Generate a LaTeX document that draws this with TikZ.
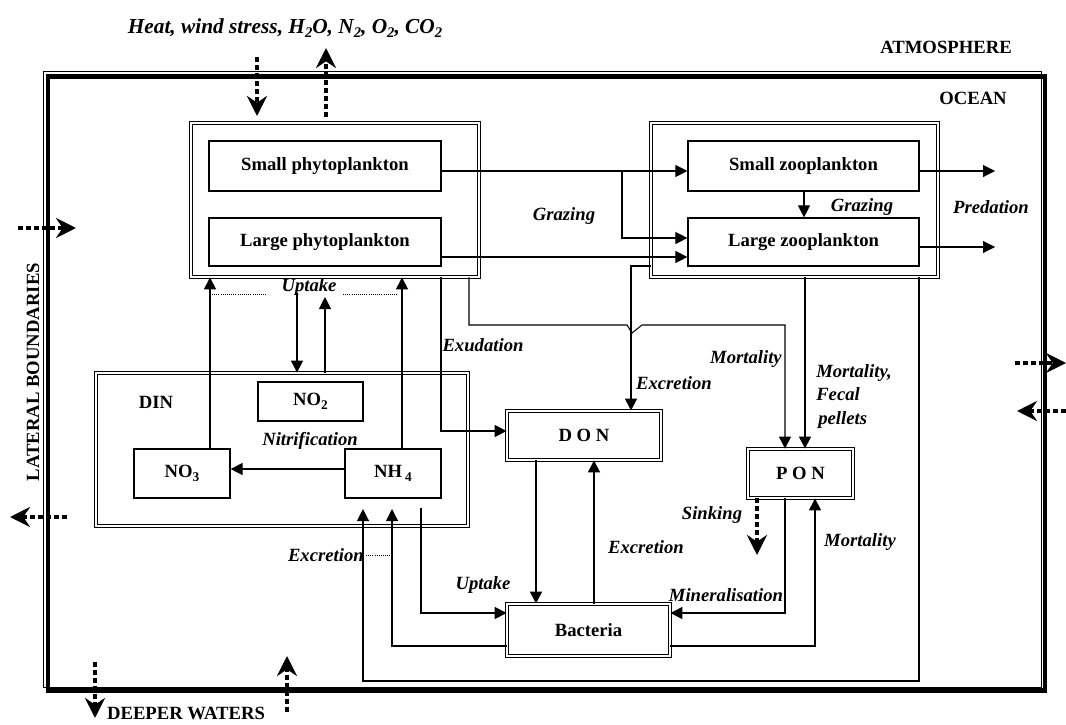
\documentclass[tikz,border=0pt]{standalone}
\usepackage{fontspec}
\setmainfont{Liberation Serif}
\usetikzlibrary{arrows.meta,calc}
\newcommand\sbs[2][10]{\raisebox{-0.45ex}{\fontsize{#1}{#1}\selectfont #2}}
\begin{document}
\begin{tikzpicture}[x=0.75pt,y=-0.75pt,
  ibox/.style={draw, line width=0.9pt, inner sep=0pt, font=\fontsize{14}{16}\selectfont\bfseries},
  dbox/.style={draw, double, double distance=1.3pt, line width=0.6pt, inner sep=0pt, font=\fontsize{14}{16}\selectfont\bfseries},
  arr/.style={line width=0.8pt, -{Triangle[length=9pt,width=9pt]}},
  flux/.style={line width=3pt, dash pattern=on 3.75pt off 2.25pt, -{Stealth[length=15pt,width=15pt,inset=5pt]}},
  lbl/.style={font=\fontsize{14}{17.6}\selectfont\bfseries\itshape, inner sep=0pt},
  captxt/.style={font=\fontsize{14}{16}\selectfont\bfseries, inner sep=0pt},
  dots/.style={line width=0.6pt, densely dotted}]
\useasboundingbox (0,0) rectangle (1066,724);

% ocean frame
\draw[line width=0.75pt] (43,72) rectangle (1041,687);
\draw[line width=3.5pt] (48,76.5) rectangle (1045,690.5);

% group boxes
\node[dbox, minimum width=288*0.75pt, minimum height=154*0.75pt] (phyto) at (335,200) {};
\node[dbox, minimum width=287*0.75pt, minimum height=154*0.75pt] (zoo) at (794.5,200) {};
\node[dbox, minimum width=372*0.75pt, minimum height=153*0.75pt] (din) at (282,449.5) {};

% boxes
\node[ibox, minimum width=232*0.75pt, minimum height=50*0.75pt] (sphy) at (325,166) {Small phytoplankton};
\node[ibox, minimum width=232*0.75pt, minimum height=48*0.75pt] (lphy) at (325,242) {Large phytoplankton};
\node[ibox, minimum width=231*0.75pt, minimum height=50*0.75pt] (szoo) at (803.5,166) {Small zooplankton};
\node[ibox, minimum width=231*0.75pt, minimum height=48*0.75pt] (lzoo) at (803.5,242) {Large zooplankton};
\node[ibox, minimum width=105*0.75pt, minimum height=39*0.75pt] (no2) at (310.5,401.5) {NO\sbs{2}};
\node[ibox, minimum width=96*0.75pt, minimum height=49*0.75pt] (no3) at (182,473.5) {NO\sbs{3}};
\node[ibox, minimum width=96*0.75pt, minimum height=49*0.75pt] (nh4) at (393,473.5) {NH\,\sbs{4}};
\node[dbox, minimum width=154*0.75pt, minimum height=49*0.75pt] (don) at (584,435.5) {D O N};
\node[dbox, minimum width=105*0.75pt, minimum height=49*0.75pt] (pon) at (800.5,473.5) {P O N};
\node[dbox, minimum width=163*0.75pt, minimum height=52*0.75pt] (bac) at (588.5,630) {Bacteria};

% connectors
\coordinate (br) at (622,171);
\draw[arr] (sphy.east |- 0,171) -- (szoo.west |- 0,171);
\draw[arr] (br) |- (lzoo.west |- 0,238);
\draw[arr] (lphy.east |- 0,257) -- (lzoo.west |- 0,257);
\draw[arr] (szoo.south -| 804,0) -- (lzoo.north -| 804,0);
\coordinate (pred1) at (995,171);
\coordinate (pred2) at (995,247);
\draw[arr] (szoo.east |- pred1) -- (pred1);
\draw[arr] (lzoo.east |- pred2) -- (pred2);
\draw[arr] (zoo.west |- 0,266) -| (don.north -| 631,0);
\draw[arr] (phyto.south -| 469,0) -- (469,325) -- (627,325) -- (632,333) -- (642,325) -| (pon.north -| 785,0);
\draw[arr] (phyto.south -| 441,0) |- (don.west |- 0,431);
\draw[arr] (zoo.south -| 805,0) -- (pon.north -| 805,0);
\draw[arr] (no3.north -| 210,0) -- (phyto.south -| 210,0);
\draw[arr] (nh4.north -| 402,0) -- (phyto.south -| 402,0);
\coordinate (up1) at (297,293);
\coordinate (up2) at (325,297);
\draw[arr] (up1) -- (din.north -| up1);
\draw[arr] (din.north -| up2) -- (up2);
\draw[arr] (nh4.west |- 0,469) -- (no3.east |- 0,469);
\coordinate (bu) at (421,508);
\coordinate (e1) at (392,509);
\coordinate (e2) at (363,509);
\draw[arr] (bu) |- (bac.west |- 0,613);
\draw[arr] (bac.west |- 0,646) -| (e1);
\draw[arr] (zoo.south -| 919,0) |- (363,681) -- (e2);
\draw[arr] (don.south -| 536,0) -- (bac.north -| 536,0);
\draw[arr] (bac.north -| 594,0) -- (don.south -| 594,0);
\draw[arr] (pon.south -| 785,0) |- (bac.east |- 0,613);
\draw[arr] (bac.east |- 0,646) -| (pon.south -| 815,0);

% dotted guide lines
\draw[dots] (212,294) -- (267,294);
\draw[dots] (343,294) -- (398,294);
\draw[dots] (366,555) -- (390,555);

% flux arrows
\coordinate (sk) at (757,555);
\draw[flux] (pon.south -| sk) -- (sk);
\coordinate (ta1) at (257,57);  \coordinate (tb1) at (257,116);
\coordinate (ta2) at (326,117); \coordinate (tb2) at (326,48);
\draw[flux] (ta1) -- (tb1);
\draw[flux] (ta2) -- (tb2);
\coordinate (la1) at (18,228);  \coordinate (lb1) at (76,228);
\coordinate (la2) at (67,517);  \coordinate (lb2) at (10,517);
\draw[flux] (la1) -- (lb1);
\draw[flux] (la2) -- (lb2);
\coordinate (ra1) at (1015,363); \coordinate (rb1) at (1066,363);
\coordinate (ra2) at (1066,411); \coordinate (rb2) at (1017,411);
\draw[flux] (ra1) -- (rb1);
\draw[flux] (ra2) -- (rb2);
\coordinate (ba1) at (95,662);  \coordinate (bb1) at (95,718);
\coordinate (ba2) at (287,712); \coordinate (bb2) at (287,656);
\draw[flux] (ba1) -- (bb1);
\draw[flux] (ba2) -- (bb2);

% labels
\node[font=\fontsize{16}{18}\selectfont\bfseries\itshape, inner sep=0pt] (top) at (285,28) {Heat, wind stress, H\sbs[11]{2}O, N\sbs[11]{2}, O\sbs[11]{2}, CO\sbs[11]{2}};
\node[captxt] (atm) at (946,47) {ATMOSPHERE};
\node[captxt] (ocean) at (973,98) {OCEAN};
\node[captxt, rotate=90] (lat) at (33,372) {LATERAL BOUNDARIES};
\node[captxt] (deep) at (186,713) {DEEPER WATERS};
\node[captxt] (dinl) at (156,402) {DIN};
\node[lbl] (l1) at (309,287) {Uptake};
\node[lbl] (l2) at (564,216) {Grazing};
\node[lbl] (l3) at (862,207) {Grazing};
\node[lbl] (l4) at (991,207) {Predation};
\node[lbl] (l5) at (483,345) {Exudation};
\node[lbl] (l6) at (674,383) {Excretion};
\node[lbl, anchor=east] (l7) at (782,359) {Mortality};
\node[lbl, anchor=north west, align=left] (l8) at (816,364) {Mortality,\\Fecal\\\hspace{1.5pt}pellets};
\node[lbl] (l9) at (310,441) {Nitrification};
\node[lbl, anchor=east] (l10) at (364,555) {Excretion};
\node[lbl] (l11) at (483,585) {Uptake};
\node[lbl] (l12) at (646,547) {Excretion};
\node[lbl] (l13) at (712,515) {Sinking};
\node[lbl] (l14) at (860,542) {Mortality};
\node[lbl] (l15) at (726,595) {Mineralisation};
\end{tikzpicture}
\end{document}
